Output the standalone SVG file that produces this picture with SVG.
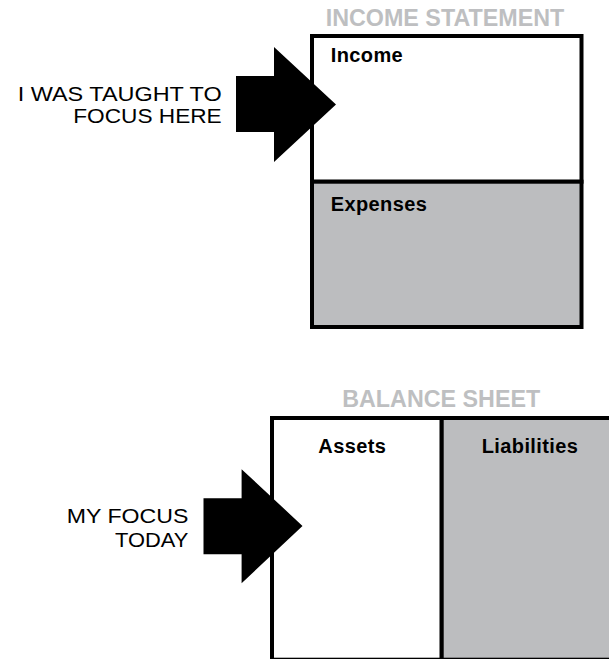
<svg xmlns="http://www.w3.org/2000/svg" width="609" height="659" viewBox="0 0 609 659">
<style>
.title{font-family:"Liberation Sans",Arial,sans-serif;font-weight:bold;font-size:23.3px;fill:#bebfc1;text-anchor:middle}
.lbl{font-family:"Liberation Sans",Arial,sans-serif;font-weight:bold;font-size:20px;fill:#000;letter-spacing:0.4px}
.note{font-family:"Liberation Sans",Arial,sans-serif;font-size:19.8px;fill:#000;text-anchor:end}
.box{stroke:#000;stroke-width:4}
.white{fill:#fff}
.grey{fill:#bcbdbf}
.arrow{fill:#000}
</style>
<rect width="609" height="659" fill="#fff"/>
<g id="income-statement">
  <text class="title" x="445" y="25.5">INCOME STATEMENT</text>
  <g id="income">
    <rect class="box white" x="312" y="36" width="269.5" height="145.7"/>
    <text class="lbl" x="330.7" y="61.7">Income</text>
  </g>
  <g id="expenses">
    <rect class="box grey" x="312" y="181.7" width="269.5" height="145.3"/>
    <text class="lbl" x="330.7" y="211">Expenses</text>
  </g>
</g>
<g id="balance-sheet">
  <text class="title" x="441.2" y="407">BALANCE SHEET</text>
  <g id="assets">
    <rect class="box white" x="272" y="418" width="169.7" height="241.7"/>
    <text class="lbl" x="318.3" y="453.3">Assets</text>
  </g>
  <g id="liabilities">
    <rect class="box grey" x="441.7" y="418" width="190" height="241.7"/>
    <text class="lbl" x="481.7" y="453.3">Liabilities</text>
  </g>
</g>
<g id="note-taught">
  <text class="note" x="221.7" y="101" textLength="204" lengthAdjust="spacingAndGlyphs">I WAS TAUGHT TO</text>
  <text class="note" x="221.7" y="123.3" textLength="148.4" lengthAdjust="spacingAndGlyphs">FOCUS HERE</text>
</g>
<g id="note-today">
  <text class="note" x="188.3" y="523.3" textLength="121.5" lengthAdjust="spacingAndGlyphs">MY FOCUS</text>
  <text class="note" x="188.3" y="546.7" textLength="73.3" lengthAdjust="spacingAndGlyphs">TODAY</text>
</g>
<g id="connectors">
  <path class="arrow" d="M236,76 H274 V47 L336,104.5 L274,162 V132 H236 Z"/>
  <path class="arrow" d="M203.5,498.3 H241.6 V469.2 L302.5,525.9 L241.6,583.3 V554.3 H203.5 Z"/>
</g>
</svg>
